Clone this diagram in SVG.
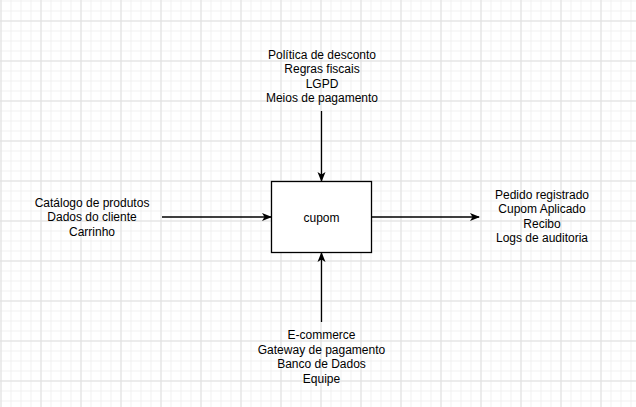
<svg xmlns="http://www.w3.org/2000/svg" width="636" height="407" viewBox="0 0 636 407">
<defs>
<pattern id="minor" x="0.5" y="0.5" width="10" height="10" patternUnits="userSpaceOnUse">
<path d="M10 0.5H0M0.5 0V10" fill="none" stroke="#f0f0f0" stroke-width="1"/>
</pattern>
<pattern id="major" x="0.5" y="20.5" width="40" height="40" patternUnits="userSpaceOnUse">
<path d="M40 0.5H0M0.5 0V40" fill="none" stroke="#e0e0e0" stroke-width="1"/>
</pattern>
<marker id="arr" viewBox="0 0 10 10" refX="9" refY="5" markerWidth="10" markerHeight="10" markerUnits="userSpaceOnUse" orient="auto">
<path d="M0 1L10 5L0 9L2.5 5Z" fill="#000"/>
</marker>
<style>
text{font-family:"Liberation Sans",Arial,sans-serif;font-size:12px;fill:#000;text-anchor:middle}
.c{fill:none;stroke:#000;stroke-width:1.3}
</style>
</defs>
<rect width="636" height="407" fill="#fff"/>
<rect width="636" height="407" fill="url(#minor)"/>
<rect width="636" height="407" fill="url(#major)"/>
<g id="connectors">
<path class="c" d="M321.5 111V181" marker-end="url(#arr)"/>
<path class="c" d="M162 217H271" marker-end="url(#arr)"/>
<path class="c" d="M371.5 217H479" marker-end="url(#arr)"/>
<path class="c" d="M321.5 322V253" marker-end="url(#arr)"/>
</g>
<g id="cupom">
<rect x="271.5" y="181.5" width="100" height="71" fill="#fff" stroke="#000" stroke-width="1.3"/>
<text x="321.5" y="221.5">cupom</text>
</g>
<g id="controls">
<text x="322" y="59">Política de desconto</text>
<text x="322" y="73.4">Regras fiscais</text>
<text x="322" y="87.8">LGPD</text>
<text x="322" y="102.2">Meios de pagamento</text>
</g>
<g id="inputs">
<text x="92" y="207">Catálogo de produtos</text>
<text x="92" y="221.4">Dados do cliente</text>
<text x="92" y="235.8">Carrinho</text>
</g>
<g id="outputs">
<text x="542" y="198.5">Pedido registrado</text>
<text x="542" y="213">Cupom Aplicado</text>
<text x="542" y="227.5">Recibo</text>
<text x="542" y="242">Logs de auditoria</text>
</g>
<g id="mechanisms">
<text x="321.5" y="339.3">E-commerce</text>
<text x="321.5" y="353.7">Gateway de pagamento</text>
<text x="321.5" y="368.1">Banco de Dados</text>
<text x="321.5" y="382.5">Equipe</text>
</g>
</svg>
